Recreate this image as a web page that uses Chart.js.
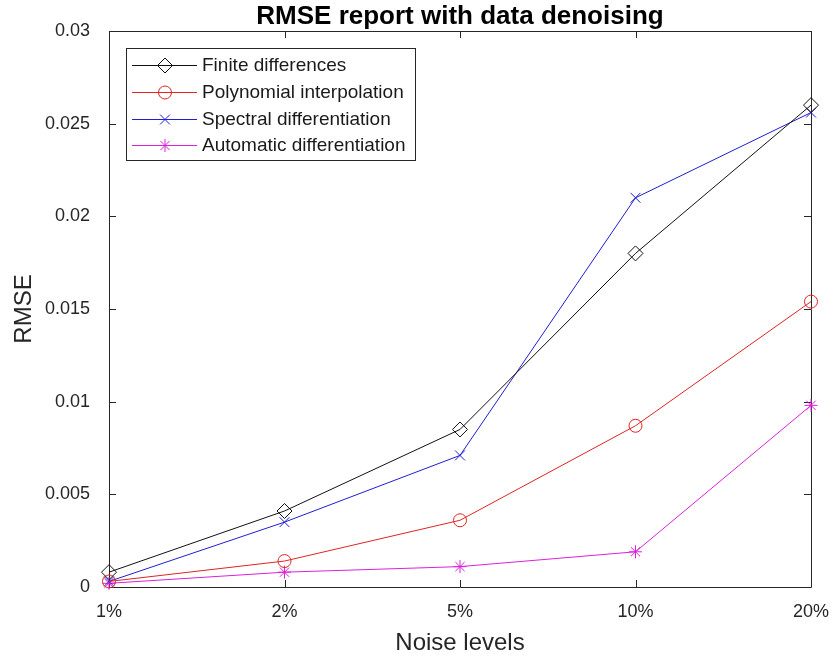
<!DOCTYPE html>
<html><head><meta charset="utf-8">
<script src="https://cdn.jsdelivr.net/npm/chart.js@4/dist/chart.umd.min.js"></script>
<style>html,body{margin:0;padding:0;background:#fff}</style>
</head><body>
<canvas id="c" width="836" height="659"></canvas>
<script>
// ---- data ----
const noiseLevels = ['1%', '2%', '5%', '10%', '20%'];
const finiteDifferences = [0.0008, 0.0041, 0.0085, 0.0180, 0.0260];
const polynomialInterpolation = [0.0003, 0.0014, 0.0036, 0.0087, 0.0154];
const spectralDifferentiation = [0.0003, 0.0035, 0.0071, 0.0210, 0.0256];
const automaticDifferentiation = [0.0002, 0.0008, 0.0011, 0.0019, 0.0098];
const seriesNames = ['Finite differences', 'Polynomial interpolation', 'Spectral differentiation', 'Automatic differentiation'];
const yTickValues = [0, 0.005, 0.01, 0.015, 0.02, 0.025, 0.03];
const chartTitle = 'RMSE report with data denoising';

const FONT = "'Liberation Sans', Arial, Helvetica, sans-serif";
const AXIS = '#262626';

const styles = [
  {color: '#111111', pointStyle: 'rectRot', radius: 7.5},
  {color: 'rgb(225,35,35)', pointStyle: 'circle', radius: 6.5},
  {color: 'rgb(30,30,210)', pointStyle: 'crossRot', radius: 7},
  {color: 'rgb(220,32,220)', pointStyle: 'star', radius: 6.5}
];
const values = [finiteDifferences, polynomialInterpolation, spectralDifferentiation, automaticDifferentiation];

const datasets = values.map((v, i) => ({
  label: seriesNames[i],
  data: v,
  borderColor: styles[i].color,
  backgroundColor: styles[i].color,
  pointBorderColor: styles[i].color,
  pointBackgroundColor: 'rgba(0,0,0,0)',
  pointStyle: styles[i].pointStyle,
  pointRadius: styles[i].radius,
  pointHoverRadius: styles[i].radius,
  pointBorderWidth: 1,
  borderWidth: 1,
  tension: 0,
  fill: false,
  clip: false
}));

const framePlugin = {
  id: 'frame',
  beforeDatasetsDraw(chart) {
    const {ctx, chartArea: a, scales: {x, y}} = chart;
    ctx.save();
    ctx.strokeStyle = AXIS;
    ctx.lineWidth = 1;
    ctx.beginPath();
    ctx.rect(Math.round(a.left) + 0.5, Math.round(a.top) + 0.5, Math.round(a.right - a.left), Math.round(a.bottom - a.top));
    ctx.stroke();
    const tl = 7;
    ctx.beginPath();
    noiseLevels.forEach((_, i) => {
      const px = Math.round(x.getPixelForValue(i)) + 0.5;
      ctx.moveTo(px, a.bottom); ctx.lineTo(px, a.bottom - tl);
      ctx.moveTo(px, a.top); ctx.lineTo(px, a.top + tl);
    });
    yTickValues.forEach(v => {
      const py = Math.round(y.getPixelForValue(v)) + 0.5;
      ctx.moveTo(a.left, py); ctx.lineTo(a.left + tl, py);
      ctx.moveTo(a.right, py); ctx.lineTo(a.right - tl, py);
    });
    ctx.stroke();
    // title centred over the plot area
    ctx.fillStyle = '#000000';
    ctx.font = 'bold 26px ' + FONT;
    ctx.textAlign = 'center';
    ctx.textBaseline = 'alphabetic';
    ctx.fillText(chartTitle, (a.left + a.right) / 2, 24);
    ctx.restore();
  }
};

const legendPlugin = {
  id: 'matlabLegend',
  afterDatasetsDraw(chart) {
    const {ctx} = chart;
    const box = {l: 126, t: 48, r: 415, b: 160};
    ctx.save();
    ctx.fillStyle = '#ffffff';
    ctx.fillRect(box.l, box.t, box.r - box.l, box.b - box.t);
    ctx.strokeStyle = AXIS;
    ctx.lineWidth = 1;
    ctx.strokeRect(box.l + 0.5, box.t + 0.5, box.r - box.l, box.b - box.t);
    const rows = [65, 92, 118.5, 145];
    chart.data.datasets.forEach((ds, i) => {
      const yy = rows[i];
      ctx.strokeStyle = ds.borderColor;
      ctx.lineWidth = 1;
      ctx.beginPath();
      ctx.moveTo(132, Math.round(yy) + 0.5);
      ctx.lineTo(197, Math.round(yy) + 0.5);
      ctx.stroke();
      ctx.fillStyle = 'rgba(0,0,0,0)';
      Chart.helpers.drawPoint(ctx, {pointStyle: ds.pointStyle, radius: ds.pointRadius, borderWidth: 1, rotation: 0}, 165, Math.round(yy) + 0.5);
      ctx.fillStyle = '#1a1a1a';
      ctx.font = '19px ' + FONT;
      ctx.textBaseline = 'middle';
      ctx.textAlign = 'left';
      ctx.fillText(ds.label, 202, yy + 1);
    });
    ctx.restore();
  }
};

new Chart(document.getElementById('c'), {
  type: 'line',
  data: {labels: noiseLevels, datasets},
  options: {
    responsive: false,
    animation: false,
    devicePixelRatio: 1,
    layout: {padding: {left: 0, right: 25, top: 31, bottom: 0}},
    plugins: {
      legend: {display: false},
      tooltip: {enabled: false},
      title: {display: false}
    },
    scales: {
      x: {
        type: 'category',
        offset: false,
        grid: {display: false, drawTicks: false},
        border: {display: false},
        ticks: {color: AXIS, font: {family: FONT, size: 18}, padding: 14, maxRotation: 0, autoSkip: false},
        title: {display: true, text: 'Noise levels', color: AXIS, font: {family: FONT, size: 24}, padding: {top: 0, bottom: 1}},
        afterFit(s) { s.height = 72; s.paddingLeft = 0; s.paddingRight = 0; }
      },
      y: {
        min: 0, max: 0.03,
        grid: {display: false, drawTicks: false},
        border: {display: false},
        afterBuildTicks(s) { s.ticks = yTickValues.map(v => ({value: v})); },
        ticks: {
          color: AXIS, font: {family: FONT, size: 18}, padding: 19,
          callback: v => String(parseFloat(Number(v).toFixed(4)))
        },
        title: {display: true, text: 'RMSE', color: AXIS, font: {family: FONT, size: 24}, padding: {top: 10, bottom: 0}},
        afterFit(s) { s.width = 109; s.paddingTop = 0; s.paddingBottom = 0; }
      }
    }
  },
  plugins: [framePlugin, legendPlugin]
});
</script>
</body></html>
